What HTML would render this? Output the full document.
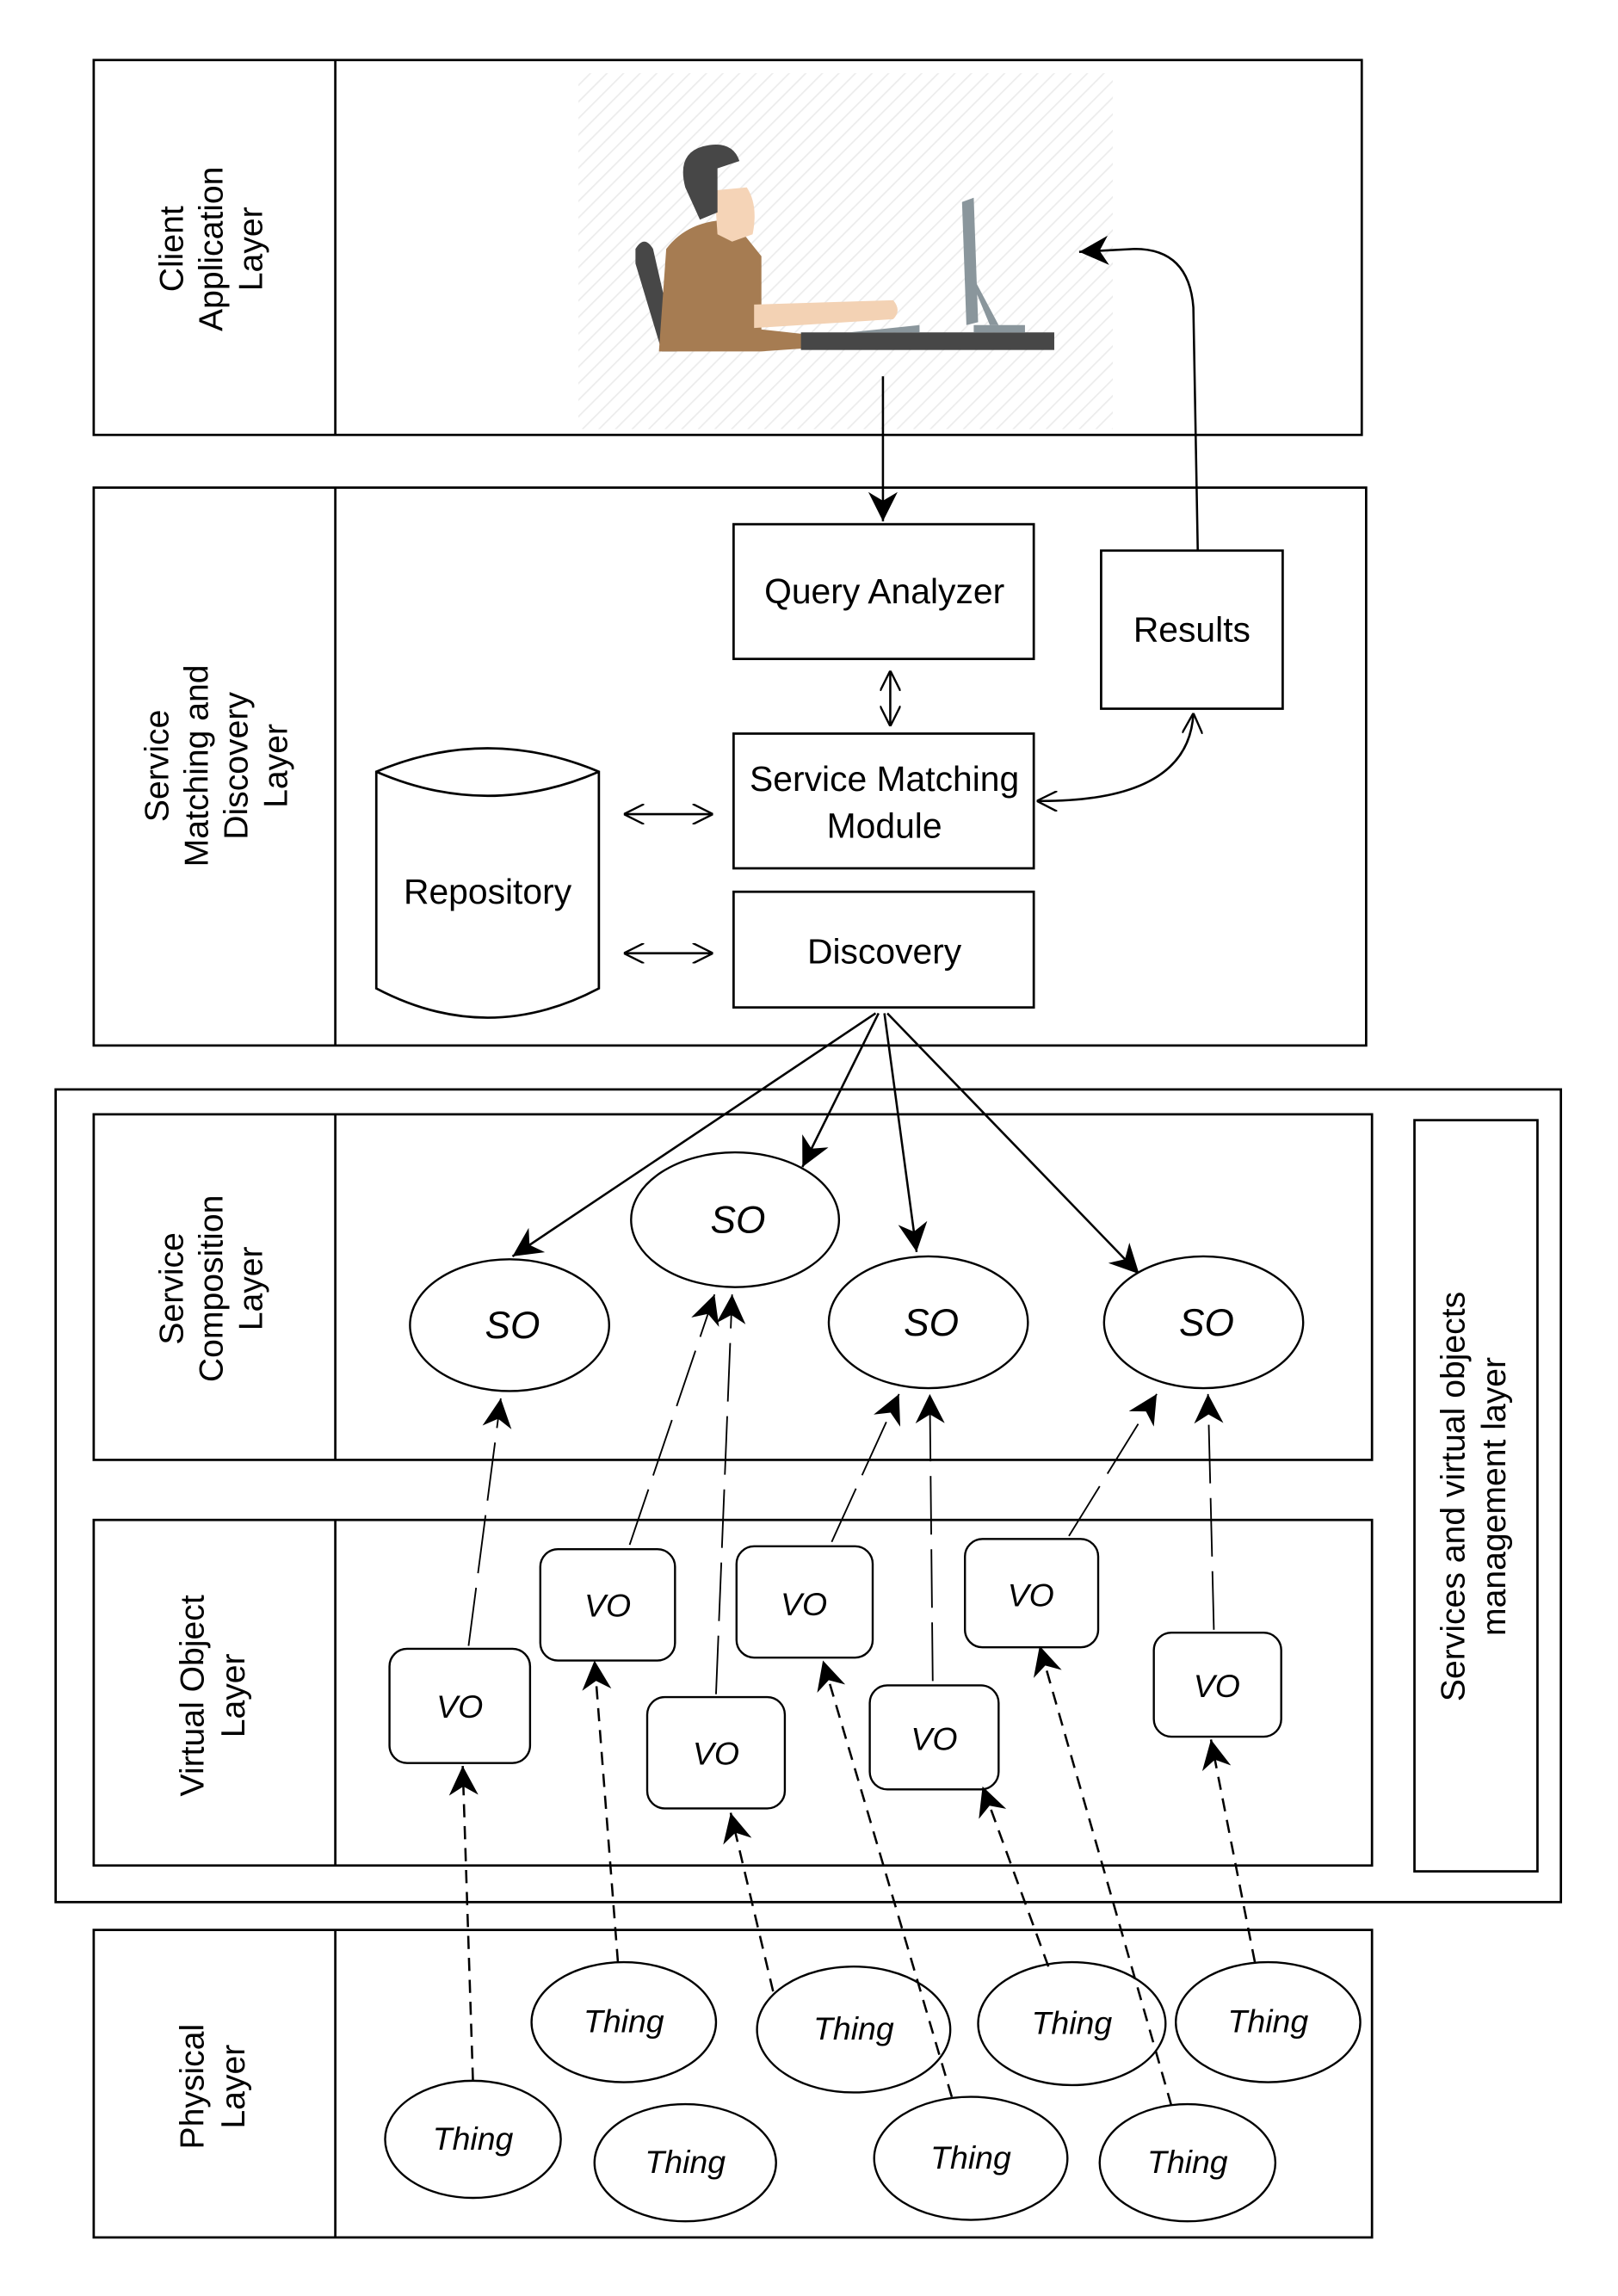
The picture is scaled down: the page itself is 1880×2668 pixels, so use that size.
<!DOCTYPE html>
<html><head><meta charset="utf-8"><style>html,body{margin:0;padding:0;background:#fff}svg{display:block}</style></head>
<body>
<svg width="1880" height="2668" viewBox="0 0 1105 1568" preserveAspectRatio="none" xmlns="http://www.w3.org/2000/svg" font-family="Liberation Sans, sans-serif">
<defs>
<pattern id="hatch" width="8" height="8" patternUnits="userSpaceOnUse" patternTransform="rotate(45)"><rect width="8" height="8" fill="#fff"/><line x1="0" y1="0" x2="0" y2="8" stroke="#ececec" stroke-width="2"/></pattern>
<marker id="ah" viewBox="0 0 10 10" refX="10" refY="5" markerWidth="9" markerHeight="9" markerUnits="userSpaceOnUse" orient="auto"><path d="M0,0 L10,5 L0,10 L3,5z" fill="#000"/></marker>
<marker id="ahb" viewBox="0 0 10 10" refX="10" refY="5" markerWidth="20" markerHeight="20" markerUnits="userSpaceOnUse" orient="auto"><path d="M0,0 L10,5 L0,10 L3,5z" fill="#000"/></marker>
<marker id="oa" viewBox="0 0 10 10" refX="10" refY="5" markerWidth="14" markerHeight="14" markerUnits="userSpaceOnUse" orient="auto"><path d="M0,0 Q6,3 10,5 Q6,7 0,10" fill="none" stroke="#000" stroke-width="1"/></marker>
<marker id="oas" viewBox="0 0 10 10" refX="10" refY="5" markerWidth="14" markerHeight="14" markerUnits="userSpaceOnUse" orient="auto-start-reverse"><path d="M0,0 Q6,3 10,5 Q6,7 0,10" fill="none" stroke="#000" stroke-width="1"/></marker>
</defs>
<g fill="none" stroke="#000" stroke-width="1.6">
<rect x="64" y="41" width="866" height="256"/><line x1="229" y1="41" x2="229" y2="297"/>
<rect x="64" y="333" width="869" height="381"/><line x1="229" y1="333" x2="229" y2="714"/>
<rect x="38" y="744" width="1028" height="555"/>
<rect x="64" y="761" width="873" height="236"/><line x1="229" y1="761" x2="229" y2="997"/>
<rect x="966" y="765" width="84" height="513"/>
<rect x="64" y="1038" width="873" height="236"/><line x1="229" y1="1038" x2="229" y2="1274"/>
<rect x="64" y="1318" width="873" height="210"/><line x1="229" y1="1318" x2="229" y2="1528"/>
</g>
<g font-size="23" text-anchor="middle" fill="#000">
<text transform="translate(147,170) rotate(-90)"><tspan x="0" y="-22">Client</tspan><tspan x="0" y="5">Application</tspan><tspan x="0" y="32">Layer</tspan></text>
<text transform="translate(147,523) rotate(-90)"><tspan x="0" y="-32">Service</tspan><tspan x="0" y="-5">Matching and</tspan><tspan x="0" y="22">Discovery</tspan><tspan x="0" y="49">Layer</tspan></text>
<text transform="translate(147,880) rotate(-90)"><tspan x="0" y="-22">Service</tspan><tspan x="0" y="5">Composition</tspan><tspan x="0" y="32">Layer</tspan></text>
<text transform="translate(147,1158) rotate(-90)"><tspan x="0" y="-8">Virtual Object</tspan><tspan x="0" y="20">Layer</tspan></text>
<text transform="translate(147,1425) rotate(-90)"><tspan x="0" y="-8">Physical</tspan><tspan x="0" y="20">Layer</tspan></text>
<text transform="translate(1008,1022) rotate(-90)"><tspan x="0" y="-8">Services and virtual objects</tspan><tspan x="0" y="20">management layer</tspan></text>
</g>
<rect x="395" y="50" width="365" height="243" fill="url(#hatch)"/>
<path d="M434,170 Q440,160 446,170 L462,240 L452,240 L434,180z" fill="#474747"/>
<path d="M455,170 Q470,150 500,150 L520,175 L520,225 L548,228 L548,238 L520,240 L450,240z" fill="#a67c52"/>
<path d="M515,208 L610,205 Q616,212 610,218 L515,224z" fill="#f3d2b4"/>
<path d="M488,130 L510,128 Q518,140 514,160 L500,165 L490,160z" fill="#f5d4b7"/>
<path d="M468,128 Q462,105 480,100 Q500,95 505,110 L490,115 L490,145 L478,150z" fill="#474747"/>
<rect x="547" y="227" width="173" height="12" fill="#474747"/>
<path d="M657,138 L665,135 L668,220 L660,222z" fill="#8a969c"/>
<path d="M665,190 L682,222 L676,222 L666,198z" fill="#8a969c"/>
<rect x="665" y="222" width="35" height="5" fill="#8a969c"/>
<path d="M580,227 L628,222 L628,227z" fill="#8a969c"/>
<g fill="none" stroke="#000" stroke-width="1.6">
<rect x="501" y="358" width="205" height="92"/>
<rect x="752" y="376" width="124" height="108"/>
<rect x="501" y="501" width="205" height="92"/>
<rect x="501" y="609" width="205" height="79"/>
<path d="M257,527 Q333,495 409,527 L409,675 Q333,715 257,675z M257,527 Q333,560 409,527"/>
</g>
<g font-size="24" text-anchor="middle" fill="#000">
<text x="604" y="412">Query Analyzer</text>
<text x="814" y="438">Results</text>
<text x="604" y="540">Service Matching</text><text x="604" y="572">Module</text>
<text x="604" y="658">Discovery</text>
<text x="333" y="617">Repository</text>
</g>
<g fill="none" stroke="#000" stroke-width="1.5">
<line x1="603" y1="257" x2="603" y2="356" marker-end="url(#ahb)"/>
<path d="M818,376 L815,210 Q812,170 775,170 L737,172" marker-end="url(#ahb)"/>
<line x1="608" y1="458" x2="608" y2="496" marker-end="url(#oa)" marker-start="url(#oas)"/>
<line x1="426" y1="556" x2="487" y2="556" marker-end="url(#oa)" marker-start="url(#oas)"/>
<line x1="426" y1="651" x2="487" y2="651" marker-end="url(#oa)" marker-start="url(#oas)"/>
<path d="M708,547 Q812,548 815,487" marker-end="url(#oa)" marker-start="url(#oas)"/>
<line x1="598" y1="692" x2="350" y2="858" marker-end="url(#ahb)"/>
<line x1="600" y1="692" x2="548" y2="797" marker-end="url(#ahb)"/>
<line x1="604" y1="692" x2="626" y2="855" marker-end="url(#ahb)"/>
<line x1="606" y1="692" x2="778" y2="870" marker-end="url(#ahb)"/>
</g>
<g fill="#fff" stroke="#000" stroke-width="1.4">
<ellipse cx="348" cy="905" rx="68" ry="45"/><ellipse cx="502" cy="833" rx="71" ry="46"/><ellipse cx="634" cy="903" rx="68" ry="45"/><ellipse cx="822" cy="903" rx="68" ry="45"/>
<rect x="266" y="1126" width="96" height="78" rx="12"/><rect x="369" y="1058" width="92" height="76" rx="12"/><rect x="442" y="1159" width="94" height="76" rx="12"/><rect x="503" y="1056" width="93" height="76" rx="12"/><rect x="594" y="1151" width="88" height="71" rx="12"/><rect x="659" y="1051" width="91" height="74" rx="12"/><rect x="788" y="1115" width="87" height="71" rx="12"/>
<ellipse cx="323" cy="1461" rx="60" ry="40"/><ellipse cx="426" cy="1381" rx="63" ry="41"/><ellipse cx="468" cy="1477" rx="62" ry="40"/><ellipse cx="583" cy="1386" rx="66" ry="43"/><ellipse cx="663" cy="1474" rx="66" ry="42"/><ellipse cx="732" cy="1382" rx="64" ry="42"/><ellipse cx="811" cy="1477" rx="60" ry="40"/><ellipse cx="866" cy="1381" rx="63" ry="41"/>
</g>
<g font-size="26" font-style="italic" text-anchor="middle" fill="#000">
<text x="350" y="914">SO</text><text x="504" y="842">SO</text><text x="636" y="912">SO</text><text x="824" y="912">SO</text>
</g>
<g font-size="22" font-style="italic" text-anchor="middle" fill="#000">
<text x="314" y="1173">VO</text><text x="415" y="1104">VO</text><text x="489" y="1205">VO</text><text x="549" y="1103">VO</text><text x="638" y="1195">VO</text><text x="704" y="1097">VO</text><text x="831" y="1159">VO</text>
<text x="323" y="1468">Thing</text><text x="426" y="1388">Thing</text><text x="468" y="1484">Thing</text><text x="583" y="1393">Thing</text><text x="663" y="1481">Thing</text><text x="732" y="1389">Thing</text><text x="811" y="1484">Thing</text><text x="866" y="1388">Thing</text>
</g>
<g fill="none" stroke="#000" stroke-width="1.1" stroke-dasharray="40,10">
<line x1="320" y1="1124" x2="342" y2="955" marker-end="url(#ahb)"/>
<line x1="430" y1="1055" x2="488" y2="884" marker-end="url(#ahb)"/>
<line x1="489" y1="1157" x2="500" y2="884" marker-end="url(#ahb)"/>
<line x1="568" y1="1053" x2="614" y2="952" marker-end="url(#ahb)"/>
<line x1="637" y1="1148" x2="635" y2="952" marker-end="url(#ahb)"/>
<line x1="730" y1="1049" x2="790" y2="952" marker-end="url(#ahb)"/>
<line x1="829" y1="1113" x2="825" y2="952" marker-end="url(#ahb)"/>
</g>
<g fill="none" stroke="#000" stroke-width="1.5" stroke-dasharray="9,6">
<line x1="323" y1="1421" x2="316" y2="1206" marker-end="url(#ahb)"/>
<line x1="422" y1="1340" x2="406" y2="1134" marker-end="url(#ahb)"/>
<line x1="528" y1="1360" x2="499" y2="1238" marker-end="url(#ahb)"/>
<line x1="650" y1="1432" x2="562" y2="1134" marker-end="url(#ahb)"/>
<line x1="716" y1="1343" x2="671" y2="1220" marker-end="url(#ahb)"/>
<line x1="800" y1="1438" x2="710" y2="1124" marker-end="url(#ahb)"/>
<line x1="857" y1="1340" x2="827" y2="1188" marker-end="url(#ahb)"/>
</g>
</svg>
</body></html>
